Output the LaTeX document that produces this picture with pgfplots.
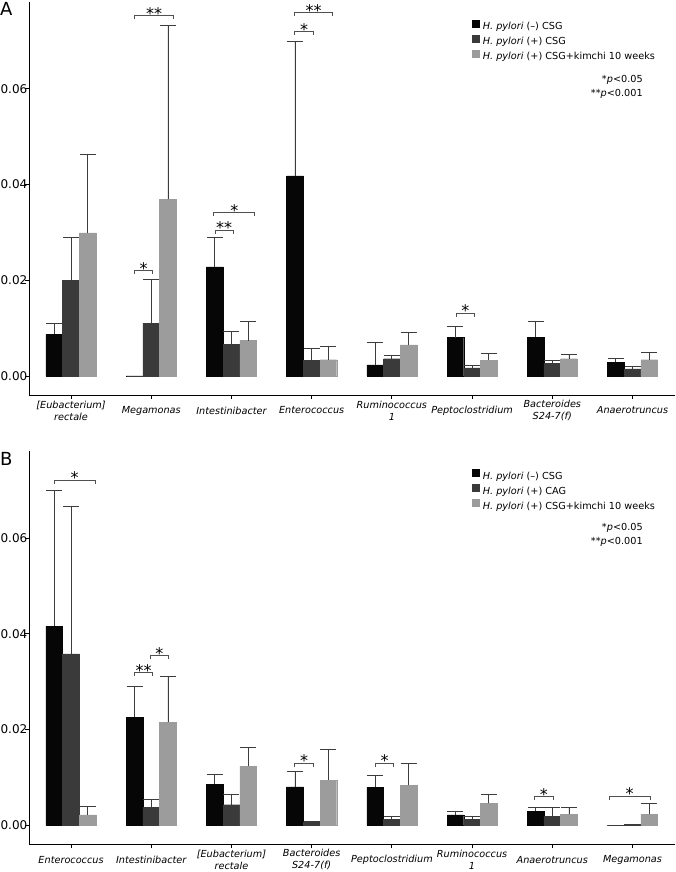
\documentclass[border=0pt]{standalone}
\usepackage{pgfplots}
\pgfplotsset{compat=1.18}
\usepackage{fontspec}
\setmainfont{DejaVu Sans}
\definecolor{cBlack}{HTML}{060606}
\definecolor{cDark}{HTML}{3A3A3A}
\definecolor{cLight}{HTML}{9C9C9C}
\definecolor{cErr}{HTML}{3C3C3C}
\definecolor{cBr}{HTML}{505050}

\newcommand{\br}[4]{%
  \draw[cBr, line width=0.8pt] ([yshift=-3.5pt]axis cs:#1,#3) -- (axis cs:#1,#3) -- node[text=black, font=\fontsize{16}{16}\selectfont, anchor=base, yshift=-3.5pt, inner sep=0pt]{#4} (axis cs:#2,#3) -- ([yshift=-3.5pt]axis cs:#2,#3);
}

\pgfplotsset{
  panel/.style={
    scale only axis, width=646pt, height=393pt,
    xmin=-0.524, xmax=7.53, ymin=-0.00397, ymax=0.0781,
    axis x line*=bottom, axis y line*=left,
    axis line style={line width=0.8pt, black, -},
    tick align=outside, major tick length=4pt,
    tick style={line width=0.8pt, black},
    xtick={0,...,7},
    ytick={0,0.02,0.04,0.06},
    /pgf/number format/assume math mode=true,
    yticklabel style={/pgf/number format/fixed, /pgf/number format/fixed zerofill, /pgf/number format/precision=2, font=\fontsize{12}{13}\selectfont, inner sep=0pt, xshift=2.5pt},
    scaled y ticks=false,
    xticklabel style={font=\fontsize{9.7}{12}\itshape, align=center, anchor=center, yshift=-11.5pt},
    ybar=0pt, bar width=16.7pt,
    clip=false,
    error bars/y dir=plus, error bars/y explicit,
    error bars/error bar style={line width=0.8pt, cErr},
    error bars/error mark options={rotate=90, mark size=8pt, line width=0.8pt, cErr},
    legend cell align=left,
    legend image code/.code={\fill[##1] (0pt,0pt) rectangle (6.7pt,6.7pt); \path (8.7pt,0pt);},
    legend style={at={(0.6858,0.9547)}, anchor=north west, draw=none, fill=none,
      font=\fontsize{9.7}{11}\selectfont, inner sep=0pt, row sep=2.2pt,
      nodes={inner sep=1.5pt}},
  }
}

\begin{document}
\begin{tikzpicture}
\useasboundingbox (-29pt,-477pt) rectangle (646pt,395pt);

% ---------------- Panel A ----------------
\begin{axis}[panel,
  xticklabels={{[Eubacterium]\\rectale},Megamonas,Intestinibacter,Enterococcus,{Ruminococcus\\1},Peptoclostridium,{Bacteroides\\S24-7(f)},Anaerotruncus}]
\addplot[fill=cBlack, draw=cBlack] coordinates {
 (0,0.0087) +- (0,0.0022)
 (1,0.0) +- (0,0.0)
 (2,0.0228) +- (0,0.0062)
 (3,0.0418) +- (0,0.0280)
 (4,0.0023) +- (0,0.0047)
 (5,0.0080) +- (0,0.0024)
 (6,0.0081) +- (0,0.0034)
 (7,0.0029) +- (0,0.0008)};
\addplot[fill=cDark, draw=cDark] coordinates {
 (0,0.0200) +- (0,0.0090)
 (1,0.0110) +- (0,0.0092)
 (2,0.0066) +- (0,0.0027)
 (3,0.0032) +- (0,0.0025)
 (4,0.0036) +- (0,0.0007)
 (5,0.0017) +- (0,0.0005)
 (6,0.0026) +- (0,0.0007)
 (7,0.0015) +- (0,0.0005)};
\addplot[fill=cLight, draw=cLight] coordinates {
 (0,0.0299) +- (0,0.0164)
 (1,0.0369) +- (0,0.0364)
 (2,0.0074) +- (0,0.0039)
 (3,0.0034) +- (0,0.0028)
 (4,0.0065) +- (0,0.0026)
 (5,0.0033) +- (0,0.0014)
 (6,0.0036) +- (0,0.0009)
 (7,0.0034) +- (0,0.0016)};
\addlegendentry{\textit{H. pylori} (–) CSG}
\addlegendentry{\textit{H. pylori} (+) CSG}
\addlegendentry{\textit{H. pylori} (+) CSG+kimchi 10 weeks}
\br{0.79}{1.28}{0.0752}{**}
\br{0.79}{1.02}{0.0220}{*}
\br{1.80}{2.02}{0.0304}{**}
\br{1.78}{2.29}{0.0341}{*}
\br{2.79}{3.02}{0.0719}{*}
\br{2.79}{3.26}{0.0759}{**}
\br{4.80}{5.03}{0.0131}{*}
\node[anchor=east, inner sep=0pt, font=\fontsize{9.7}{11}\selectfont] at (axis cs:7.13,0.0618) {*\textit{p}<0.05};
\node[anchor=east, inner sep=0pt, font=\fontsize{9.7}{11}\selectfont] at (axis cs:7.13,0.0589) {**\textit{p}<0.001};
\end{axis}
\node[anchor=north west, inner sep=0pt, font=\fontsize{18}{18}\selectfont] at (-29pt,393pt) {A};

% ---------------- Panel B ----------------
\begin{axis}[panel, at={(0pt,-449.3pt)},
  xticklabels={Enterococcus,Intestinibacter,{[Eubacterium]\\rectale},{Bacteroides\\S24-7(f)},Peptoclostridium,{Ruminococcus\\1},Anaerotruncus,Megamonas}]
\addplot[fill=cBlack, draw=cBlack] coordinates {
 (0,0.0416) +- (0,0.0284)
 (1,0.0226) +- (0,0.0064)
 (2,0.0086) +- (0,0.0021)
 (3,0.0080) +- (0,0.0033)
 (4,0.0079) +- (0,0.0025)
 (5,0.0022) +- (0,0.0007)
 (6,0.0029) +- (0,0.0008)
 (7,0.0) +- (0,0.0)};
\addplot[fill=cDark, draw=cDark] coordinates {
 (0,0.0358) +- (0,0.0307)
 (1,0.0038) +- (0,0.0016)
 (2,0.0043) +- (0,0.0021)
 (3,0.0007) +- (0,0.0002)
 (4,0.0013) +- (0,0.0005)
 (5,0.0013) +- (0,0.0005)
 (6,0.0019) +- (0,0.0018)
 (7,0.0002) +- (0,0.0)};
\addplot[fill=cLight, draw=cLight] coordinates {
 (0,0.0022) +- (0,0.0017)
 (1,0.0215) +- (0,0.0095)
 (2,0.0123) +- (0,0.0039)
 (3,0.0094) +- (0,0.0065)
 (4,0.0084) +- (0,0.0045)
 (5,0.0046) +- (0,0.0019)
 (6,0.0023) +- (0,0.0015)
 (7,0.0023) +- (0,0.0022)};
\addlegendentry{\textit{H. pylori} (–) CSG}
\addlegendentry{\textit{H. pylori} (+) CAG}
\addlegendentry{\textit{H. pylori} (+) CSG+kimchi 10 weeks}
\br{-0.21}{0.30}{0.0721}{*}
\br{0.79}{1.02}{0.0319}{**}
\br{0.99}{1.21}{0.0354}{*}
\br{2.79}{3.02}{0.0130}{*}
\br{3.80}{4.02}{0.0130}{*}
\br{5.78}{6.01}{0.0060}{*}
\br{6.71}{7.22}{0.0061}{*}
\node[anchor=east, inner sep=0pt, font=\fontsize{9.7}{11}\selectfont] at (axis cs:7.13,0.0620) {*\textit{p}<0.05};
\node[anchor=east, inner sep=0pt, font=\fontsize{9.7}{11}\selectfont] at (axis cs:7.13,0.0591) {**\textit{p}<0.001};
\end{axis}
\node[anchor=north west, inner sep=0pt, font=\fontsize{18}{18}\selectfont] at (-29pt,-57pt) {B};
\end{tikzpicture}
\end{document}
